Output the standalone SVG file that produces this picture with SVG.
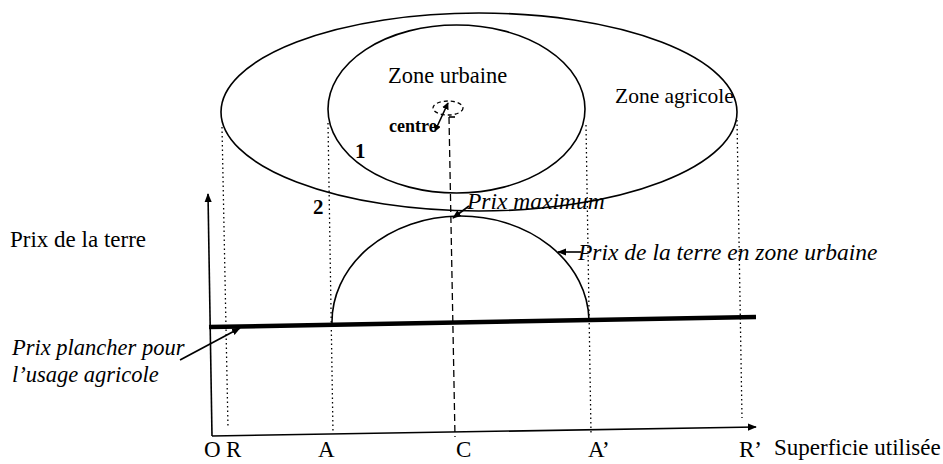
<svg xmlns="http://www.w3.org/2000/svg" width="943" height="464" viewBox="0 0 943 464">
<style>
.t{font-family:"Liberation Serif","Times New Roman",serif;fill:#000}
.r{font-size:23px}
.i{font-size:23.5px;font-style:italic}
.b{font-weight:bold}
.ln{fill:none;stroke:#000;stroke-width:1.6}
.dot{fill:none;stroke:#000;stroke-width:1.3;stroke-dasharray:1.5 3}
.dash{fill:none;stroke:#000;stroke-width:1.3;stroke-dasharray:7 4}
</style>
<defs>
<marker id="ah" viewBox="0 0 10 10" refX="9" refY="5" markerWidth="7" markerHeight="7" orient="auto-start-reverse" markerUnits="userSpaceOnUse">
<path d="M0,0 L10,5 L0,10 Z" fill="#000"/>
</marker>
<marker id="ahs" viewBox="0 0 10 10" refX="9" refY="5" markerWidth="9" markerHeight="9" orient="auto-start-reverse" markerUnits="userSpaceOnUse">
<path d="M0,1 L10,5 L0,9 Z" fill="#000"/>
</marker>
</defs>
<rect width="943" height="464" fill="#fff"/>

<g id="zone-agricole">
<ellipse class="ln" cx="479" cy="112" rx="258" ry="99"/>
<text class="t" font-size="21.5" x="615" y="103">Zone agricole</text>
</g>
<g id="zone-urbaine">
<ellipse class="ln" cx="456.5" cy="109" rx="128.5" ry="84"/>
<text class="t" font-size="22.5" x="388" y="83">Zone urbaine</text>
</g>
<g id="centre">
<ellipse cx="448" cy="108" rx="15" ry="7" fill="none" stroke="#000" stroke-width="1.3" stroke-dasharray="4 3"/>
<text class="t b" font-size="18" x="389" y="132">centre</text>
</g>
<g id="label-1"><text class="t b" font-size="21" x="355" y="158">1</text></g>
<g id="label-2"><text class="t b" font-size="21" x="313" y="214">2</text></g>

<g id="axes">
<line class="ln" x1="212" y1="436" x2="208" y2="194" marker-end="url(#ahs)"/>
<line class="ln" x1="212" y1="436" x2="756" y2="427" marker-end="url(#ahs)"/>
<text class="t r" x="10" y="247">Prix de la terre</text>
<text class="t r" x="774" y="455">Superficie utilisée</text>
</g>

<g id="prix-plancher">
<line x1="209" y1="327" x2="756" y2="317" stroke="#000" stroke-width="4.5"/>
<text class="t" font-size="22.5" font-style="italic" x="12" y="355">Prix plancher pour</text>
<text class="t" font-size="22.5" font-style="italic" x="12" y="382">l’usage agricole</text>
</g>

<g id="prix-urbain">
<path class="ln" d="M332,324 A128.5,106 0 0 1 589,320"/>
<text class="t i" x="578" y="260">Prix de la terre en zone urbaine</text>
</g>

<g id="prix-maximum">
<text class="t i" font-size="21.5" x="467" y="209">Prix maximum</text>
</g>

<g id="ticks">
<text class="t r" x="204" y="457">O</text>
<text class="t r" x="226" y="457">R</text>
<text class="t r" x="318" y="457">A</text>
<text class="t r" x="456" y="457">C</text>
<text class="t r" x="588" y="457">A’</text>
<text class="t r" x="739" y="457">R’</text>
</g>

<g id="connectors">
<line class="dot" x1="222" y1="127" x2="228" y2="428"/>
<line class="dot" x1="328" y1="123" x2="333" y2="433"/>
<line class="dot" x1="586" y1="125" x2="591" y2="433"/>
<line class="dot" x1="737" y1="120" x2="742" y2="418"/>
<line class="dash" x1="449" y1="117" x2="455" y2="437"/>
<line class="ln" x1="449" y1="117" x2="455" y2="117"/>
<line class="ln" x1="435" y1="131" x2="448" y2="103" marker-start="url(#ah)" marker-end="url(#ah)"/>
<line class="ln" x1="180" y1="360" x2="240" y2="328" marker-end="url(#ahs)"/>
<line class="ln" x1="581" y1="252" x2="558" y2="252" marker-end="url(#ahs)"/>
<line class="ln" x1="469" y1="206" x2="453" y2="218" marker-end="url(#ahs)"/>
</g>
</svg>
